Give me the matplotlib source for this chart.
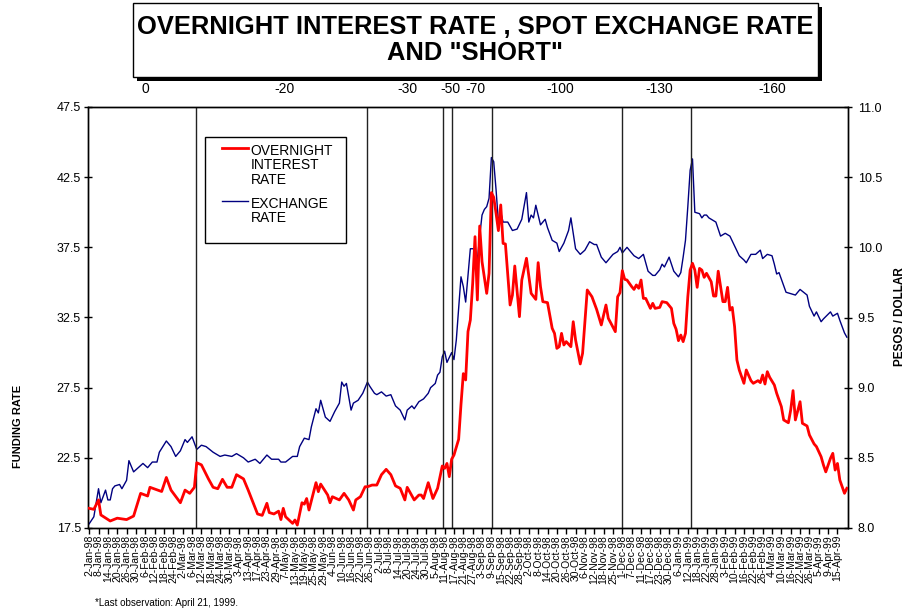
import matplotlib
matplotlib.use('Agg')
import matplotlib.pyplot as plt
from matplotlib.patches import Rectangle
from matplotlib.lines import Line2D
import matplotlib.transforms as mtransforms

plt.rcParams['font.family'] = ['Liberation Sans', 'DejaVu Sans']

# ---------------- data ----------------
tick_labels = [
    "2-Jan-98", "8-Jan-98", "14-Jan-98", "20-Jan-98", "26-Jan-98", "30-Jan-98",
    "6-Feb-98", "12-Feb-98", "18-Feb-98", "24-Feb-98", "2-Mar-98", "6-Mar-98",
    "12-Mar-98", "18-Mar-98", "24-Mar-98", "30-Mar-98", "3-Apr-98", "13-Apr-98",
    "17-Apr-98", "23-Apr-98", "29-Apr-98", "7-May-98", "13-May-98", "19-May-98",
    "25-May-98", "29-May-98", "4-Jun-98", "10-Jun-98", "16-Jun-98", "22-Jun-98",
    "26-Jun-98", "2-Jul-98", "8-Jul-98", "14-Jul-98", "20-Jul-98", "24-Jul-98",
    "30-Jul-98", "5-Aug-98", "11-Aug-98", "17-Aug-98", "21-Aug-98", "27-Aug-98",
    "3-Sep-98", "9-Sep-98", "15-Sep-98", "22-Sep-98", "28-Sep-98", "2-Oct-98",
    "8-Oct-98", "14-Oct-98", "20-Oct-98", "26-Oct-98", "30-Oct-98", "6-Nov-98",
    "12-Nov-98", "18-Nov-98", "25-Nov-98", "1-Dec-98", "7-Dec-98", "11-Dec-98",
    "17-Dec-98", "23-Dec-98", "30-Dec-98", "6-Jan-99", "12-Jan-99", "18-Jan-99",
    "22-Jan-99", "28-Jan-99", "3-Feb-99", "10-Feb-99", "16-Feb-99", "22-Feb-99",
    "26-Feb-99", "4-Mar-99", "10-Mar-99", "16-Mar-99", "22-Mar-99", "26-Mar-99",
    "5-Apr-99", "9-Apr-99", "15-Apr-99",
]
n_days = 325          # business days from 2-Jan-98 to 21-Apr-99
label_step = 4        # one date label every 4 business days

# overnight interest rate (left axis), business-day index -> value
rate_day = [0, 2, 4, 5, 9, 12, 16, 19, 22, 25, 26, 31, 33, 35, 39, 41, 43, 45,
            46, 48, 51, 53, 55, 57, 59, 61, 63, 66, 68, 72, 74, 76, 77, 79, 81,
            82, 83, 84, 87, 88, 89, 91, 92, 93, 94, 97, 98, 99, 102, 103, 104,
            107, 109, 111, 113, 114, 116, 118, 119, 121, 123, 125, 127, 129, 131,
            133, 135, 136, 139, 141, 142, 143, 145, 147, 149, 151, 152, 153, 154,
            155, 156, 158, 159, 160, 161, 162, 163, 164, 165, 166, 167, 168, 170,
            171, 172, 173, 174, 175, 176, 177, 178, 180, 181, 182, 184, 185, 187,
            189, 191, 192, 193, 194, 196, 198, 199, 200, 201, 202, 203, 204, 206,
            207, 208, 210, 211, 213, 215, 217, 219, 221, 222, 223, 225, 226, 227,
            228, 229, 230, 232, 233, 234, 235, 236, 237, 238, 240, 241, 242, 244,
            245, 247, 249, 250, 251, 252, 253, 254, 255, 256, 257, 258, 259, 260,
            261, 262, 263, 264, 266, 267, 268, 269, 270, 271, 272, 273, 274, 275,
            276, 277, 278, 280, 281, 283, 284, 286, 287, 288, 289, 290, 291, 293,
            294, 296, 297, 299, 300, 301, 302, 304, 305, 307, 308, 310, 311, 313,
            314, 315, 317, 318, 319, 320, 321, 323, 324]
rate_val = [18.9, 18.83, 19.5, 18.43, 18.0, 18.2, 18.1, 18.35, 19.97, 19.78, 20.4,
            20.1, 21.1, 20.2, 19.3, 20.2, 19.97, 20.4, 22.15, 22.0, 21.0, 20.4,
            20.3, 20.97, 20.4, 20.4, 21.3, 21.0, 20.2, 18.5, 18.4, 19.26, 18.6,
            18.5, 18.7, 18.1, 18.9, 18.3, 17.83, 18.07, 17.71, 19.3, 19.2, 19.6,
            18.78, 20.73, 20.09, 20.63, 19.85, 19.3, 19.73, 19.5, 19.97, 19.5,
            18.78, 19.5, 19.73, 20.44, 20.44, 20.56, 20.56, 21.3, 21.68, 21.3,
            20.5, 20.33, 19.5, 20.4, 19.5, 19.85, 19.85, 19.6, 20.73, 19.6, 20.33,
            21.92, 21.75, 22.1, 21.16, 22.4, 22.7, 23.82, 26.3, 28.5, 28.05, 31.5,
            32.32, 34.93, 38.26, 33.75, 39.02, 36.48, 34.22, 35.65, 41.4, 41.06,
            39.92, 38.69, 40.52, 37.78, 37.74, 33.39, 34.1, 36.17, 32.56, 35.17,
            36.72, 34.22, 33.79, 36.41, 34.7, 33.63, 33.56, 31.73, 31.37, 30.3,
            30.42, 31.37, 30.54, 30.78, 30.42, 32.2, 30.9, 29.19, 29.95, 34.46,
            33.98, 33.08, 31.97, 33.39, 32.44, 32.13, 31.49, 33.98, 34.27, 35.84,
            35.22, 35.17, 34.7, 34.5, 34.82, 34.58, 35.17, 33.86, 33.86, 33.15,
            33.51, 33.15, 33.22, 33.63, 33.56, 33.15, 32.08, 31.66, 30.85, 31.25,
            30.78, 31.37, 33.98, 35.88, 36.36, 35.88, 34.65, 36.0, 35.88, 35.36,
            35.65, 35.05, 34.03, 34.03, 35.8, 34.7, 33.63, 33.63, 34.65, 33.03,
            33.22, 31.85, 29.47, 28.76, 27.81, 28.76, 28.0, 27.81, 28.0, 27.86,
            28.4, 27.76, 28.64, 28.24, 27.69, 27.1, 26.15, 25.2, 25.0, 25.91,
            27.29, 25.2, 26.5, 24.96, 24.77, 24.13, 23.49, 23.3, 22.58, 21.99,
            21.5, 22.46, 22.82, 21.63, 22.1, 20.92, 19.97, 20.33]

# spot exchange rate, pesos per dollar (right axis)
fx_day = [0, 2, 4, 5, 7, 8, 9, 10, 11, 13, 14, 16, 17, 19, 23, 25, 27, 29, 30,
          33, 35, 37, 39, 41, 42, 44, 46, 48, 50, 53, 56, 58, 61, 63, 66, 68, 71,
          73, 76, 78, 81, 82, 84, 87, 89, 90, 92, 94, 95, 97, 98, 99, 101, 103,
          105, 107, 108, 109, 110, 112, 113, 115, 117, 119, 120, 122, 123, 125,
          127, 129, 131, 133, 135, 136, 138, 139, 141, 143, 145, 146, 148, 149,
          150, 151, 152, 153, 155, 156, 157, 159, 160, 161, 163, 165, 166, 167,
          168, 169, 170, 171, 172, 173, 174, 175, 176, 177, 179, 181, 183, 185,
          187, 188, 189, 190, 191, 193, 195, 196, 198, 200, 201, 203, 205, 206,
          208, 210, 212, 214, 216, 217, 219, 221, 224, 226, 227, 228, 230, 231,
          233, 235, 237, 239, 241, 242, 244, 245, 246, 248, 250, 252, 253, 254,
          255, 256, 257, 258, 259, 261, 262, 263, 264, 265, 267, 268, 270, 272,
          274, 276, 278, 280, 281, 283, 285, 287, 288, 290, 292, 293, 294, 295,
          298, 300, 302, 304, 307, 308, 310, 311, 313, 314, 317, 318, 320, 321,
          323, 324]
fx_val = [8.03, 8.08, 8.28, 8.18, 8.27, 8.20, 8.20, 8.28, 8.30, 8.31, 8.28, 8.34,
          8.48, 8.40, 8.46, 8.43, 8.47, 8.47, 8.54, 8.62, 8.58, 8.51, 8.55, 8.63,
          8.61, 8.65, 8.56, 8.59, 8.58, 8.54, 8.51, 8.52, 8.51, 8.53, 8.50, 8.47,
          8.49, 8.46, 8.52, 8.49, 8.49, 8.47, 8.47, 8.51, 8.51, 8.58, 8.64, 8.63,
          8.72, 8.85, 8.82, 8.91, 8.79, 8.76, 8.83, 8.89, 9.04, 9.01, 9.03, 8.84,
          8.89, 8.91, 8.96, 9.04, 9.01, 8.96, 8.95, 8.97, 8.94, 8.95, 8.87, 8.84,
          8.77, 8.84, 8.87, 8.85, 8.90, 8.92, 8.96, 9.00, 9.03, 9.09, 9.11, 9.22,
          9.26, 9.18, 9.25, 9.20, 9.34, 9.79, 9.72, 9.61, 9.99, 9.99, 9.91, 10.08,
          10.23, 10.27, 10.29, 10.35, 10.64, 10.61, 10.41, 10.18, 10.25, 10.18,
          10.18, 10.12, 10.13, 10.20, 10.39, 10.18, 10.23, 10.21, 10.30, 10.16,
          10.20, 10.14, 10.05, 10.03, 9.97, 10.03, 10.12, 10.21, 9.99, 9.95, 9.98,
          10.04, 10.02, 10.02, 9.93, 9.89, 9.95, 9.97, 10.00, 9.96, 10.00, 9.98,
          9.94, 9.92, 9.95, 9.83, 9.80, 9.80, 9.84, 9.88, 9.86, 9.93, 9.83, 9.79,
          9.82, 9.93, 10.05, 10.29, 10.55, 10.63, 10.25, 10.24, 10.21, 10.23,
          10.23, 10.21, 10.19, 10.18, 10.08, 10.10, 10.08, 10.01, 9.94, 9.91,
          9.89, 9.95, 9.95, 9.98, 9.92, 9.95, 9.94, 9.88, 9.81, 9.82, 9.68, 9.67,
          9.66, 9.70, 9.66, 9.58, 9.51, 9.54, 9.47, 9.49, 9.54, 9.51, 9.53, 9.48,
          9.39, 9.36]

# dates (business-day index) at which the "short" was changed, and its levels
event_day = [45.8, 118.7, 151.5, 155.3, 172.4, 227.9, 257.3]
short_vals = [0, -20, -30, -50, -70, -100, -130, -160]

# ---------------- figure ----------------
W, H = 907, 616
fig = plt.figure(figsize=(W / 100, H / 100), dpi=100)
fig.patch.set_facecolor('white')

ax = fig.add_axes([88 / W, 1 - 528 / H, 760 / W, 421 / H])
ax2 = ax.twinx()

ax.set_xlim(-0.5, n_days - 0.5)
ax.set_ylim(17.5, 47.5)
ax2.set_ylim(8.0, 11.0)

ax2.plot(fx_day, fx_val, color='#000080', lw=1.0, zorder=3)
ax.plot(rate_day, rate_val, color='#FF0000', lw=2.0, zorder=3)
ax.set_zorder(ax2.get_zorder() + 1)
ax.patch.set_visible(False)

for d in event_day:
    ax.axvline(d, color='#222222', lw=1.0, zorder=2)

# "short" levels written above the plot, centred in each interval
bounds = [-0.5] + event_day + [n_days - 0.5]
trans = mtransforms.blended_transform_factory(ax.transData, ax.transAxes)
for i, v in enumerate(short_vals):
    mid = (bounds[i] + bounds[i + 1]) / 2
    ax.text(mid + 1.2, 1.043, str(v), transform=trans, ha='center', va='center',
            fontsize=10)

# axes ticks
ax.set_yticks([17.5, 22.5, 27.5, 32.5, 37.5, 42.5, 47.5])
ax.set_yticklabels(['17.5', '22.5', '27.5', '32.5', '37.5', '42.5', '47.5'])
ax2.set_yticks([8.0, 8.5, 9.0, 9.5, 10.0, 10.5, 11.0])
ax2.set_yticklabels(['8.0', '8.5', '9.0', '9.5', '10.0', '10.5', '11.0'])
ax.tick_params(axis='y', labelsize=9, direction='inout', length=6, width=1, pad=2)
ax2.tick_params(axis='y', labelsize=9, direction='inout', length=6, width=1, pad=4)

xt = [i * label_step for i in range(len(tick_labels))]
ax.set_xticks(xt)
ax.set_xticklabels(tick_labels, rotation=90, fontsize=7.5)
ax.tick_params(axis='x', direction='out', length=4, width=1, pad=1)

for sp in list(ax.spines.values()) + list(ax2.spines.values()):
    sp.set_linewidth(1.0)
    sp.set_color('black')

# legend box drawn by hand
ax.add_patch(Rectangle((0.154, 0.677), 0.185, 0.252, transform=ax.transAxes,
                       facecolor='white', edgecolor='black', lw=1.0, zorder=5))
ax.add_line(Line2D([0.176, 0.21], [0.902, 0.902], transform=ax.transAxes,
                   color='#FF0000', lw=2.0, zorder=6))
ax.text(0.214, 0.9125, 'OVERNIGHT\nINTEREST\nRATE', transform=ax.transAxes,
        ha='left', va='top', fontsize=10, linespacing=1.05, zorder=6)
ax.add_line(Line2D([0.176, 0.21], [0.776, 0.776], transform=ax.transAxes,
                   color='#000080', lw=1.0, zorder=6))
ax.text(0.214, 0.7865, 'EXCHANGE\nRATE', transform=ax.transAxes,
        ha='left', va='top', fontsize=10, linespacing=1.05, zorder=6)

# axis titles
fig.text(18 / W, 1 - 426 / H, 'FUNDING RATE', rotation=90, ha='center',
         va='center', fontsize=8, fontweight='bold')
fig.text(900 / W, 1 - 317 / H, 'PESOS / DOLLAR', rotation=90, ha='center',
         va='center', fontsize=8.5, fontweight='bold')

# title box with shadow
fig.patches.append(Rectangle((137 / W, 1 - 81 / H), 685 / W, 74 / H,
                             transform=fig.transFigure, facecolor='black',
                             edgecolor='none', zorder=1))
fig.patches.append(Rectangle((133 / W, 1 - 77 / H), 685 / W, 74 / H,
                             transform=fig.transFigure, facecolor='white',
                             edgecolor='black', lw=1.0, zorder=2))
fig.text(475 / W, 1 - 40 / H, 'OVERNIGHT INTEREST RATE , SPOT EXCHANGE RATE\nAND "SHORT"',
         ha='center', va='center', fontsize=18.4, fontweight='bold',
         linespacing=1.12, zorder=3)

fig.text(95 / W, 1 - 603 / H, '*Last observation: April 21, 1999.',
         ha='left', va='center', fontsize=7)

fig.savefig('out.png', dpi=100)
